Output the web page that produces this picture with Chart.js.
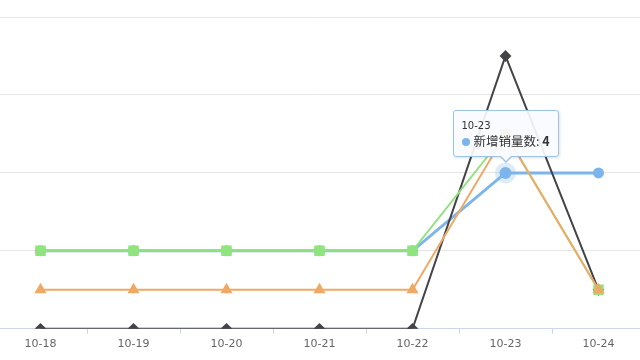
<!DOCTYPE html>
<html><head><meta charset="utf-8">
<script src="https://cdn.jsdelivr.net/npm/chart.js@4/dist/chart.umd.min.js"></script>
<style>
html,body{margin:0;padding:0;background:#fff;overflow:hidden;width:640px;height:360px}
#wrap{position:absolute;left:-15px;top:0;width:669px;height:360px}
#tip{position:absolute;display:none;background:rgba(249,251,254,0.92);border:1px solid #9cc3e8;border-radius:3px;
 box-shadow:1px 1px 3px rgba(0,0,0,0.12);font-family:"DejaVu Sans","Noto Sans CJK SC",sans-serif;color:#333;padding:8px 8px 7px 8px;white-space:nowrap}
#tip .t{font-size:10px;line-height:13px}
#tip .b{font-size:12.5px;line-height:17px;font-family:"Noto Sans CJK SC",sans-serif}
#tip .d{display:inline-block;width:8px;height:8px;border-radius:50%;background:#7cb5ec;margin-right:4px;vertical-align:0px}
#caret{position:absolute;display:none;width:0;height:0;border-left:6px solid transparent;border-right:6px solid transparent;border-top:6px solid #9cc3e8}
#caret2{position:absolute;display:none;width:0;height:0;border-left:5px solid transparent;border-right:5px solid transparent;border-top:5px solid rgba(249,251,254,1)}
</style></head>
<body>
<div id="wrap"><canvas id="c"></canvas></div>
<div id="tip"></div><div id="caret"></div><div id="caret2"></div>
<script>
const categories = ["10-18","10-19","10-20","10-21","10-22","10-23","10-24"];
const seriesNames = ["新增销量数","系列二","系列三","系列四"];
const blueValues   = [2,2,2,2,2,4,4];
const darkValues   = [0,0,0,0,0,7,1];
const greenValues  = [2,2,2,2,2,5,1];
const orangeValues = [1,1,1,1,1,5,1];
const yTicks = [0,2,4,6,8];

const hoverIndex = 5;

const tipEl = document.getElementById('tip');
const caretEl = document.getElementById('caret');
const caret2El = document.getElementById('caret2');

function externalTip(ctx){
  const tm = ctx.tooltip;
  if(!tm || tm.opacity===0 || !tm.dataPoints || !tm.dataPoints.length){tipEl.style.display='none';return;}
  const dp = tm.dataPoints[0];
  tipEl.innerHTML = '<div class="t">'+dp.label+'</div><div class="b"><span class="d"></span>'+dp.dataset.label+': <b>'+dp.raw+'</b></div>';
  tipEl.style.display='block';
  const rect = ctx.chart.canvas.getBoundingClientRect();
  const px = rect.left + dp.element.x, py = rect.top + dp.element.y;
  const w = tipEl.offsetWidth, h = tipEl.offsetHeight;
  const left = px - w/2, top = py - 16 - h;
  tipEl.style.left = left+'px'; tipEl.style.top = top+'px';
  caretEl.style.display='block'; caretEl.style.left=(px-6)+'px'; caretEl.style.top=(top+h)+'px';
  caret2El.style.display='block'; caret2El.style.left=(px-5)+'px'; caret2El.style.top=(top+h-1)+'px';
}

const chart = new Chart(document.getElementById('c'), {
  type:'line',
  data:{
    labels:categories,
    datasets:[
      {label:seriesNames[0], data:blueValues, order:3, borderColor:'#7cb5ec', backgroundColor:'#7cb5ec', borderWidth:3,
       pointStyle:'circle', pointRadius:4, pointHoverRadius:6, pointHoverBorderWidth:9,
       pointHoverBorderColor:'rgba(124,181,236,0.25)', pointHoverBackgroundColor:'#7cb5ec', tension:0},
      {label:seriesNames[1], data:darkValues, order:2, borderColor:'#434348', backgroundColor:'#434348', borderWidth:2,
       pointStyle:'rectRot', pointRadius:4.5, pointHoverRadius:4.5, tension:0},
      {label:seriesNames[2], data:greenValues, order:1, borderColor:'#90e47d', backgroundColor:'#90e47d', borderWidth:2,
       pointStyle:'rect', pointRadius:6, pointHoverRadius:6, tension:0},
      {label:seriesNames[3], data:orangeValues, order:0, borderColor:'#f0a965', backgroundColor:'#f0a965', borderWidth:2,
       pointStyle:'triangle', pointRadius:5, pointHoverRadius:5, tension:0}
    ]
  },
  options:{
    responsive:true, maintainAspectRatio:false, animation:false,
    events:[],
    layout:{padding:{top:17,bottom:5,left:0,right:0}},
    plugins:{legend:{display:false}, tooltip:{enabled:false, external:externalTip, mode:'nearest', intersect:true}},
    scales:{
      x:{offset:true,
         grid:{display:true, drawOnChartArea:false, drawTicks:true, tickLength:5, color:'#ccd6eb', offset:true},
         border:{display:true, color:'#ccd6eb', width:1},
         ticks:{color:'#666', padding:4, font:{family:'DejaVu Sans', size:11}}},
      y:{min:yTicks[0], max:yTicks[yTicks.length-1],
         afterBuildTicks:(s)=>{s.ticks = yTicks.map(v=>({value:v}));},
         grid:{color:'#e6e6e6', drawTicks:false, lineWidth:1},
         border:{display:false},
         ticks:{display:false}}
    }
  }
});
const active=[{datasetIndex:0,index:hoverIndex}];
chart.setActiveElements(active);
const el = chart.getDatasetMeta(0).data[hoverIndex];
chart.tooltip.setActiveElements(active,{x:el.x,y:el.y});
chart.update();
</script>
</body></html>
